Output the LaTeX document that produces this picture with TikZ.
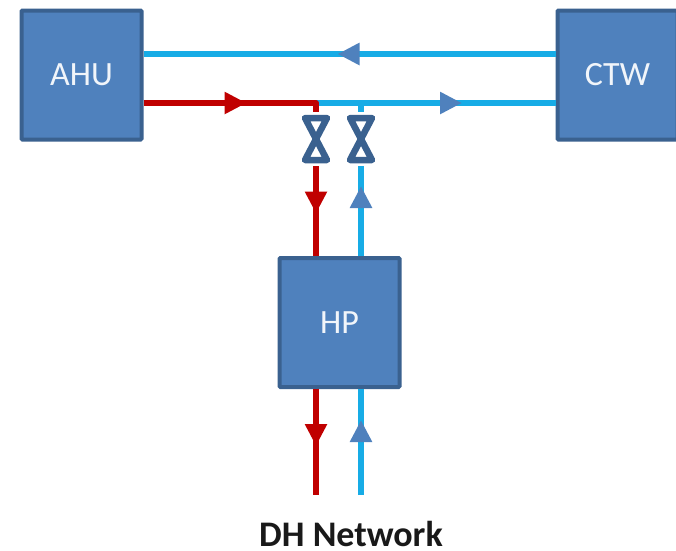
\documentclass[tikz,border=0pt]{standalone}
\usepackage{fontspec}
\setmainfont{Carlito}
\usetikzlibrary{arrows.meta}
\usetikzlibrary{decorations.markings}
\definecolor{boxfill}{HTML}{4F81BD}
\definecolor{boxline}{HTML}{3A618F}
\definecolor{hotpipe}{HTML}{C00000}
\definecolor{coldpipe}{HTML}{17ACE6}
\tikzset{
  unitbox/.style={draw=boxline,fill=boxfill,line width=4pt,rounded corners=1pt,minimum width=120pt,minimum height=129pt,inner sep=0pt,text=white!92!boxfill,font=\fontsize{34}{34}\selectfont},
  hotline/.style={draw=hotpipe,line width=6pt},
  coldline/.style={draw=coldpipe,line width=6pt},
  flowtip/.style 2 args={postaction={decorate},decoration={markings,mark=at position #1 with {\arrow[#2]{Triangle[width=21pt,length=22pt]}}}},
  hottips/.style 2 args={postaction={decorate},decoration={markings,
    mark=at position #1 with {\arrow[hotpipe]{Triangle[width=21pt,length=22pt]}},
    mark=at position #2 with {\arrow[hotpipe]{Triangle[width=21pt,length=22pt]}}}},
  valve/.style={fill=white,minimum width=34pt,minimum height=54pt,inner sep=0pt,path picture={
    \draw[boxline,line width=6.5pt,line join=round] (path picture bounding box.center)++(-11pt,21pt) -- ++(22pt,0) -- ++(-22pt,-42pt) -- ++(22pt,0) -- cycle;}},
}
\begin{document}
\begin{tikzpicture}[x=1pt,y=-1pt]
  \useasboundingbox (0,0) rectangle (676,550);
  \coordinate (hotjoint) at (316,103);
  \coordinate (coldjoint) at (361,103);
  \coordinate (toprow) at (400,54);
  \coordinate (hotend) at (316,495);
  \coordinate (coldend) at (361,495);
  \node[unitbox] (ahu) at (81.5,75) {AHU};
  \node[unitbox] (ctw) at (617.5,75) {CTW};
  \node[unitbox] (hp) at (339.5,322.5) {HP};
  \node[anchor=base,inner sep=0pt,font=\fontsize{36}{36}\selectfont\bfseries,text=black!90] (dh) at (351,546) {DH Network};
  \draw[coldline,flowtip={218pt}{boxfill}] (ctw.west |- toprow) -- (ahu.east |- toprow);
  \draw[coldline,flowtip={146pt}{boxfill}] (hotjoint) -- (ctw.west |- hotjoint);
  \draw[coldline,flowtip={70pt}{boxfill}] (hp.north -| coldjoint) -- (coldjoint);
  \draw[hotline,line join=round,hottips={103pt}{283pt}] (ahu.east |- hotjoint) -- (hotjoint) -- (hp.north -| hotjoint);
  \draw[hotline,flowtip={57pt}{hotpipe}] (hp.south -| hotend) -- (hotend);
  \draw[coldline,flowtip={75pt}{boxfill}] (coldend) -- (hp.south -| coldend);
  \node[valve] (hotvalve) at (316,139) {};
  \node[valve] (coldvalve) at (361,139) {};
\end{tikzpicture}
\end{document}
